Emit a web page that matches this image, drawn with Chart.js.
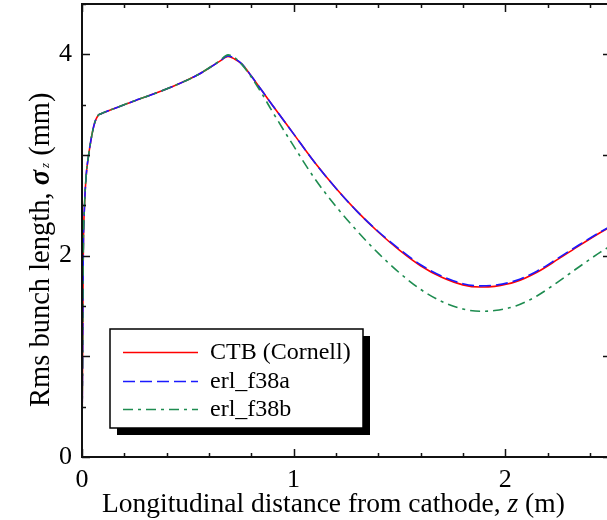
<!DOCTYPE html>
<html><head><meta charset="utf-8">
<script src="https://cdn.jsdelivr.net/npm/chart.js@4/dist/chart.umd.min.js"></script>
<style>html,body{margin:0;padding:0;overflow:hidden;background:#fff}#wrap{width:620px;height:520px;position:relative}</style>
</head><body><div id="wrap"><canvas id="c" width="620" height="520"></canvas></div>
<script>
// Longitudinal distance from cathode z (m)
const zValues = [0, 0.003, 0.006, 0.012, 0.02, 0.03, 0.045, 0.06, 0.075, 0.09, 0.15, 0.25, 0.35, 0.45, 0.55, 0.65, 0.69, 0.72, 0.755, 0.80, 0.85, 0.9, 1.0, 1.1, 1.2, 1.3, 1.4, 1.5, 1.6, 1.7, 1.8, 1.88, 1.95, 2.05, 2.15, 2.25, 2.35, 2.45, 2.5];
// Rms bunch length sigma_z (mm)
const ctbCornell = [0.2, 1.0, 2.0, 2.5, 2.8, 2.98, 3.18, 3.32, 3.39, 3.41, 3.46, 3.54, 3.615, 3.70, 3.80, 3.93, 3.98, 3.955, 3.905, 3.785, 3.64, 3.495, 3.21, 2.925, 2.67, 2.44, 2.235, 2.055, 1.90, 1.785, 1.71, 1.688, 1.695, 1.74, 1.835, 1.965, 2.10, 2.23, 2.29];
const erlF38a    = [0.2, 1.0, 2.0, 2.5, 2.8, 2.98, 3.18, 3.32, 3.39, 3.41, 3.46, 3.54, 3.615, 3.70, 3.80, 3.93, 3.985, 3.96, 3.905, 3.785, 3.64, 3.495, 3.21, 2.925, 2.67, 2.44, 2.24, 2.065, 1.91, 1.797, 1.722, 1.70, 1.707, 1.752, 1.846, 1.975, 2.108, 2.236, 2.295];
const erlF38b    = [0.2, 1.0, 2.0, 2.5, 2.8, 2.98, 3.18, 3.32, 3.39, 3.41, 3.46, 3.54, 3.615, 3.70, 3.80, 3.935, 3.995, 3.97, 3.90, 3.775, 3.61, 3.43, 3.09, 2.765, 2.49, 2.245, 2.025, 1.83, 1.665, 1.545, 1.47, 1.448, 1.455, 1.50, 1.60, 1.74, 1.89, 2.035, 2.10];
const seriesLabels = ['CTB (Cornell)', 'erl_f38a', 'erl_f38b'];
const xTickLabels = ['0', '1', '2'];
const yTickLabels = ['0', '2', '4'];

const SERIF = '"Liberation Serif", "Times New Roman", serif';
const colors = ['#ff0000', '#1a1aff', '#1e8c50'];
const dashes = [[], [12, 5], [10, 5, 3, 5]];
const seriesData = [ctbCornell, erlF38a, erlF38b];

const datasets = seriesData.map((arr, i) => ({
  label: seriesLabels[i],
  data: zValues.map((z, k) => ({ x: z, y: arr[k] })),
  borderColor: colors[i],
  borderDash: dashes[i],
  borderWidth: 1.6,
  pointRadius: 0,
  fill: false,
  cubicInterpolationMode: 'monotone',
  order: 3 - i
}));

const framePlugin = {
  id: 'frame',
  afterDatasetsDraw(chart) {
    const { ctx, chartArea: a, scales } = chart;
    const xs = scales.x, ys = scales.y;
    ctx.save();
    ctx.strokeStyle = '#111';
    ctx.lineWidth = 2;
    ctx.strokeRect(a.left, a.top, a.right - a.left, a.bottom - a.top);
    ctx.lineWidth = 1.5;
    ctx.beginPath();
    for (let k = 0; k <= 12; k++) {
      const v = k * 0.2;
      const major = Math.abs(v - Math.round(v)) < 1e-6;
      const L = major ? 8 : 4;
      const px = Math.round(xs.getPixelForValue(v)) + 0.5;
      ctx.moveTo(px, a.bottom); ctx.lineTo(px, a.bottom - L);
      ctx.moveTo(px, a.top); ctx.lineTo(px, a.top + L);
    }
    for (let k = 0; k <= 9; k++) {
      const v = k * 0.5;
      const major = Math.abs(v - Math.round(v)) < 1e-6;
      const L = major ? 8 : 4;
      const py = Math.round(ys.getPixelForValue(v)) + 0.5;
      ctx.moveTo(a.left, py); ctx.lineTo(a.left + L, py);
      ctx.moveTo(a.right, py); ctx.lineTo(a.right - L, py);
    }
    ctx.stroke();
    ctx.restore();
  },
  afterDraw(chart) {
    const { ctx } = chart;
    ctx.save();
    ctx.fillStyle = '#000';
    ctx.textBaseline = 'alphabetic';
    // x title
    const segsX = [
      { t: 'Longitudinal distance from cathode, ', f: '27.5px ' + SERIF },
      { t: 'z', f: 'italic 27.5px ' + SERIF },
      { t: ' (m)', f: '27.5px ' + SERIF }
    ];
    let x = 102;
    segsX.forEach(s => { ctx.font = s.f; ctx.fillText(s.t, x, 512); x += ctx.measureText(s.t).width; });
    // y title
    ctx.translate(49, 407);
    ctx.rotate(-Math.PI / 2);
    let yx = 0;
    const segsY = [
      { t: 'Rms bunch length, ', f: '28.5px ' + SERIF, dy: 0, pre: 0 },
      { t: 'σ', f: 'italic bold 28.5px ' + SERIF, dy: 0, pre: 0 },
      { t: 'z', f: 'italic 13px ' + SERIF, dy: 0, pre: 2 },
      { t: ' (mm)', f: '28.5px ' + SERIF, dy: 0, pre: 0 }
    ];
    segsY.forEach(s => { ctx.font = s.f; yx += s.pre; ctx.fillText(s.t, yx, s.dy); yx += ctx.measureText(s.t).width; });
    ctx.restore();

    // legend
    ctx.save();
    const bx = 110, by = 329, bw = 253, bh = 99;
    ctx.fillStyle = '#000';
    ctx.fillRect(bx + 7, by + 7, bw, bh);
    ctx.fillStyle = '#fff';
    ctx.fillRect(bx, by, bw, bh);
    ctx.strokeStyle = '#000';
    ctx.lineWidth = 1.5;
    ctx.strokeRect(bx, by, bw, bh);
    const rows = [352, 381, 409];
    chart.data.datasets.forEach((d, i) => {
      ctx.strokeStyle = d.borderColor;
      ctx.lineWidth = 1.6;
      ctx.setLineDash(d.borderDash || []);
      ctx.beginPath(); ctx.moveTo(123, rows[i] + 0.5); ctx.lineTo(198, rows[i] + 0.5); ctx.stroke();
      ctx.setLineDash([]);
      ctx.fillStyle = '#000';
      ctx.font = '24px ' + SERIF;
      ctx.textBaseline = 'middle';
      ctx.fillText(d.label, 210, rows[i] + 1);
    });
    ctx.restore();
  }
};

new Chart(document.getElementById('c'), {
  type: 'line',
  data: { datasets },
  options: {
    responsive: false,
    animation: false,
    devicePixelRatio: 1,
    layout: { autoPadding: false, padding: { top: 4, right: 9, left: 0, bottom: 0 } },
    plugins: { legend: { display: false }, tooltip: { enabled: false } },
    scales: {
      x: {
        type: 'linear', min: 0, max: 2.5,
        grid: { display: false, drawTicks: false },
        border: { display: false },
        afterBuildTicks: s => { s.ticks = xTickLabels.map(t => ({ value: parseFloat(t), label: t })); },
        ticks: { color: '#000', font: { family: SERIF, size: 26 }, padding: 8, maxRotation: 0, autoSkip: false,
          callback: (v) => xTickLabels.includes(String(v)) ? String(v) : '' },
        afterFit: s => { s.height = 63; s.paddingLeft = 0; s.paddingRight = 0; }
      },
      y: {
        type: 'linear', min: 0, max: 4.5,
        grid: { display: false, drawTicks: false },
        border: { display: false },
        afterBuildTicks: s => { s.ticks = yTickLabels.map(t => ({ value: parseFloat(t), label: t })); },
        ticks: { color: '#000', font: { family: SERIF, size: 26 }, padding: 10, autoSkip: false,
          callback: (v) => yTickLabels.includes(String(v)) ? String(v) : '' },
        afterFit: s => { s.width = 82; s.paddingTop = 0; s.paddingBottom = 0; }
      }
    }
  },
  plugins: [framePlugin]
});
</script>
</body></html>
